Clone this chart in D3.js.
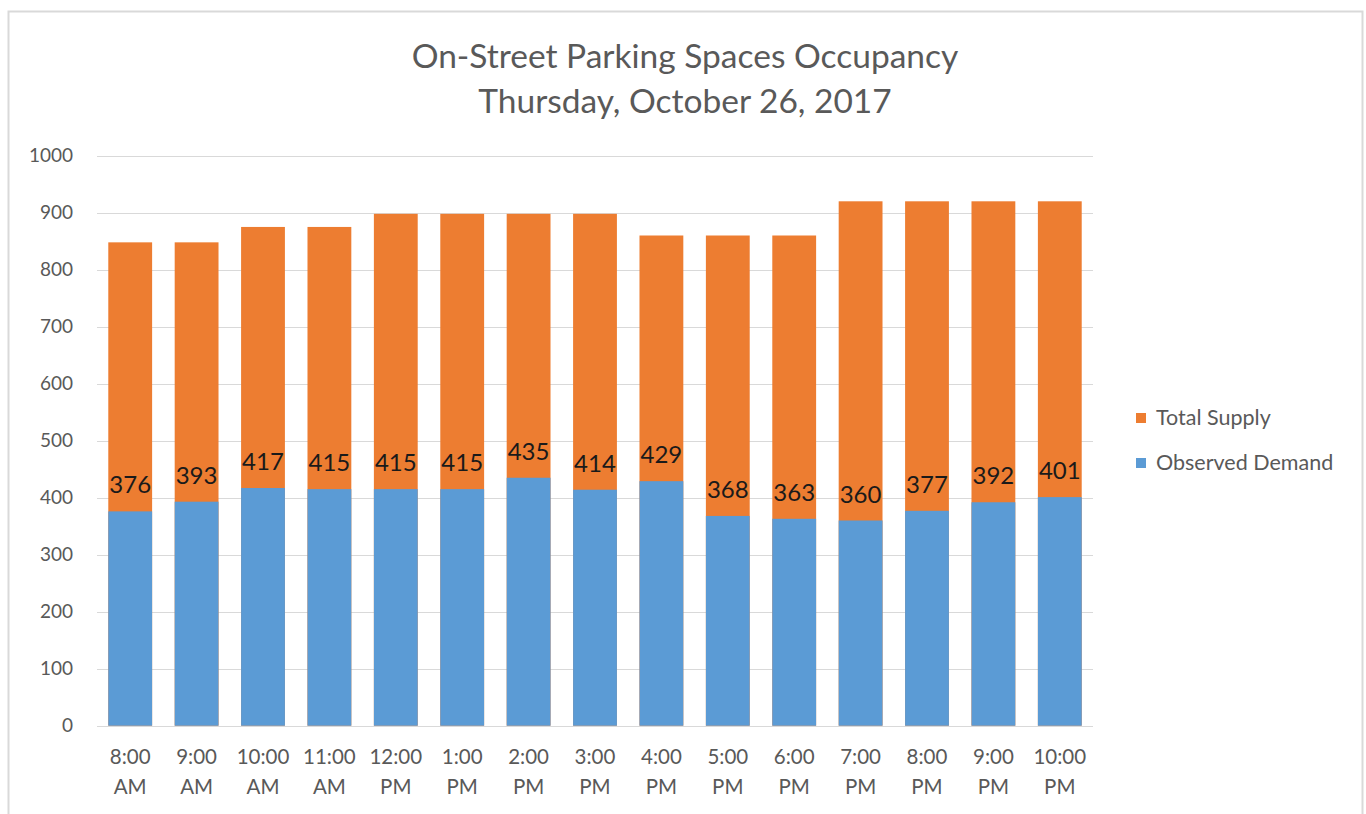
<!DOCTYPE html>
<html>
<head>
<meta charset="utf-8">
<script src="https://cdn.jsdelivr.net/npm/d3@7"></script>
<style>
  body { margin: 0; background: #fff; }
  svg text { font-family: Lato, "Open Sans", sans-serif; }
</style>
</head>
<body>
<div id="chart"></div>
<script>
// values
var timesTop = ['8:00', '9:00', '10:00', '11:00', '12:00', '1:00', '2:00', '3:00', '4:00', '5:00', '6:00', '7:00', '8:00', '9:00', '10:00'];
var timesBottom = ['AM', 'AM', 'AM', 'AM', 'PM', 'PM', 'PM', 'PM', 'PM', 'PM', 'PM', 'PM', 'PM', 'PM', 'PM'];
var totalSupply = [848, 848, 875, 875, 898, 898, 898, 898, 860, 860, 860, 920, 920, 920, 920];
var observedDemand = [376, 393, 417, 415, 415, 415, 435, 414, 429, 368, 363, 360, 377, 392, 401];
var yTicks = [0, 100, 200, 300, 400, 500, 600, 700, 800, 900, 1000];
var seriesNames = ['Total Supply', 'Observed Demand'];
var seriesColors = ['#ED7D31', '#5B9BD5'];

var width = 1366, height = 814;
var margin = { top: 156, bottom: 88, left: 97, right: 273 };

var svg = d3.select('#chart').append('svg')
    .attr('width', width)
    .attr('height', height);

// chart frame
svg.append('rect')
    .attr('x', 8.5).attr('y', 11.5)
    .attr('width', 1354).attr('height', 820)
    .attr('fill', 'none')
    .attr('stroke', '#d9d9d9')
    .attr('stroke-width', 2);

var idx = d3.range(totalSupply.length);

var xScale = d3.scaleBand()
    .domain(idx)
    .range([margin.left, width - margin.right])
    .paddingInner(0.34)
    .paddingOuter(0.17);

var yScale = d3.scaleLinear()
    .domain([0, 1000])
    .range([725.7, 155.7]);

// gridlines
svg.append('g')
    .selectAll('line')
    .data(yTicks)
    .enter()
    .append('line')
    .attr('x1', margin.left)
    .attr('x2', width - margin.right)
    .attr('y1', function(d) { return Math.round(yScale(d)) + 0.5 })
    .attr('y2', function(d) { return Math.round(yScale(d)) + 0.5 })
    .attr('stroke', '#d9d9d9')
    .attr('stroke-width', 1.2);

// y axis labels
var yAxis = d3.axisLeft(yScale).tickValues(yTicks).tickFormat(d3.format('d')).tickSize(0).tickPadding(24);
var yAxisG = svg.append('g')
    .attr('transform', 'translate(' + margin.left + ',0)')
    .call(yAxis);
yAxisG.select('.domain').remove();
yAxisG.selectAll('text')
    .attr('fill', '#595959')
    .style('font-size', '19px');

// supply bars (behind)
svg.append('g')
    .selectAll('rect')
    .data(idx)
    .enter()
    .append('rect')
    .attr('x', function(i) { return xScale(i) })
    .attr('width', xScale.bandwidth())
    .attr('y', function(i) { return yScale(totalSupply[i]) })
    .attr('height', function(i) { return yScale(0) - yScale(totalSupply[i]) })
    .attr('fill', seriesColors[0]);

// demand bars (front)
svg.append('g')
    .selectAll('rect')
    .data(idx)
    .enter()
    .append('rect')
    .attr('x', function(i) { return xScale(i) })
    .attr('width', xScale.bandwidth())
    .attr('y', function(i) { return yScale(observedDemand[i]) })
    .attr('height', function(i) { return yScale(0) - yScale(observedDemand[i]) })
    .attr('fill', seriesColors[1]);

// demand labels
svg.append('g')
    .selectAll('text')
    .data(idx)
    .enter()
    .append('text')
    .attr('x', function(i) { return xScale(i) + xScale.bandwidth() / 2 })
    .attr('y', function(i) { return yScale(observedDemand[i]) - 18 })
    .attr('text-anchor', 'middle')
    .attr('fill', '#1a1a1a')
    .style('font-size', '24px')
    .text(function(i) { return observedDemand[i] });

// x axis labels (two lines)
var xLabels = svg.append('g')
    .selectAll('text')
    .data(idx)
    .enter()
    .append('text')
    .attr('text-anchor', 'middle')
    .attr('fill', '#595959')
    .style('font-size', '20.5px');
xLabels.append('tspan')
    .attr('x', function(i) { return xScale(i) + xScale.bandwidth() / 2 })
    .attr('y', 764)
    .text(function(i) { return timesTop[i] });
xLabels.append('tspan')
    .attr('x', function(i) { return xScale(i) + xScale.bandwidth() / 2 })
    .attr('y', 794)
    .text(function(i) { return timesBottom[i] });

// title
var title = svg.append('text')
    .attr('text-anchor', 'middle')
    .attr('fill', '#595959')
    .style('font-size', '33.5px');
title.append('tspan').attr('x', 685).attr('y', 68).text('On-Street Parking Spaces Occupancy');
title.append('tspan').attr('x', 685).attr('y', 113).text('Thursday, October 26, 2017');

// legend
var legend = svg.append('g')
    .selectAll('g')
    .data(seriesNames)
    .enter()
    .append('g')
    .attr('transform', function(d, i) { return 'translate(1136,' + (418 + i * 45) + ')' });
legend.append('rect')
    .attr('x', 0).attr('y', -5)
    .attr('width', 10).attr('height', 10)
    .attr('fill', function(d, i) { return seriesColors[i] });
legend.append('text')
    .attr('x', 20).attr('y', 7)
    .attr('fill', '#595959')
    .style('font-size', '21.5px')
    .text(function(d) { return d });
</script>
</body>
</html>
